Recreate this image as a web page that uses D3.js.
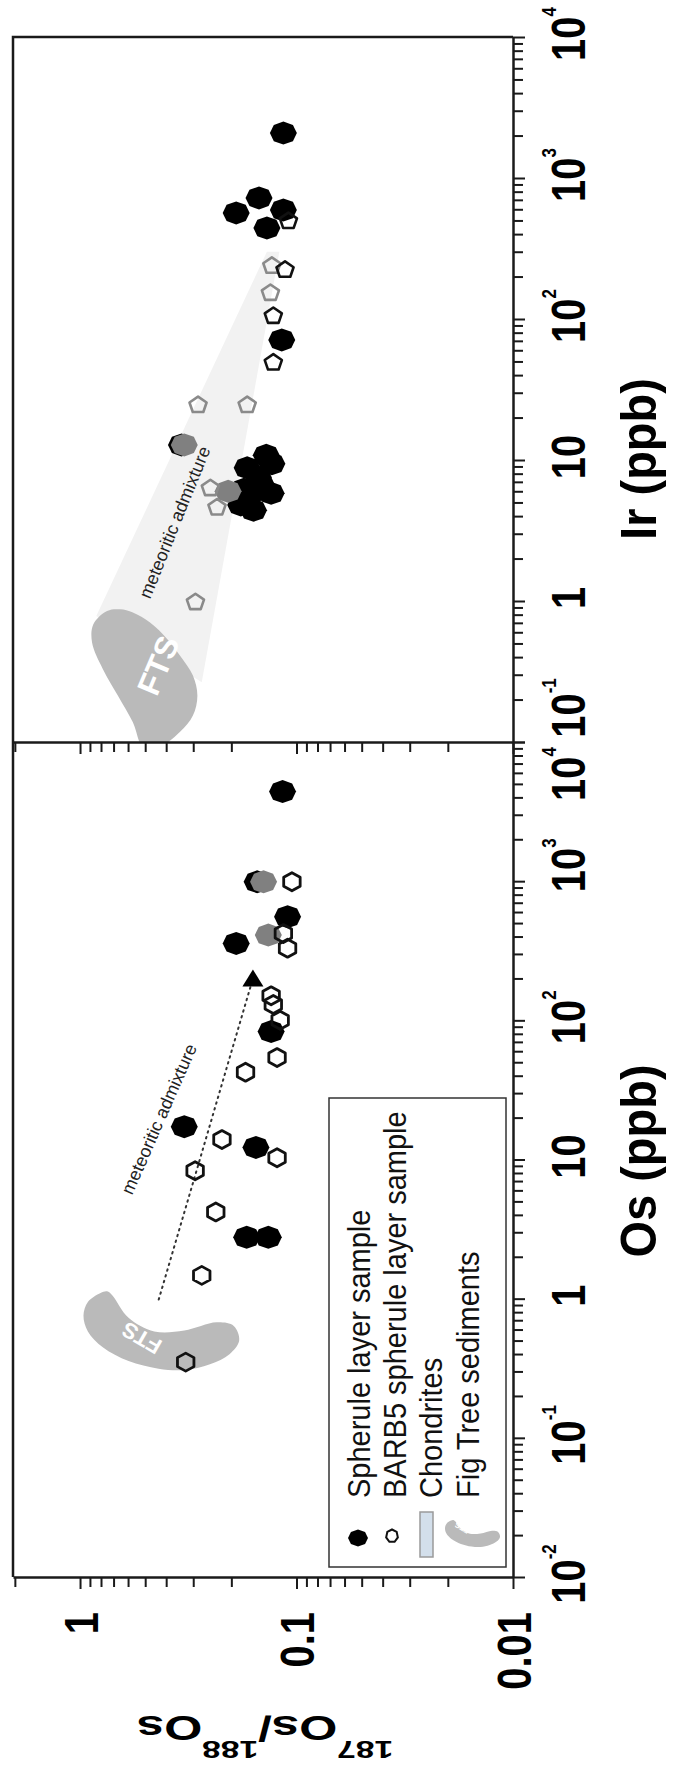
<!DOCTYPE html>
<html>
<head>
<meta charset="utf-8">
<script src="https://cdn.jsdelivr.net/npm/d3@7"></script>
<style>
  html, body { margin: 0; padding: 0; background: #fff; }
  svg { display: block; }
</style>
</head>
<body>
<svg id="chart" width="674" height="1767"></svg>
<script>
// ---------- data: [187Os/188Os, concentration (ppb)] ----------
const ratioDomain = [2.04, 0.01];
const osDomain = [0.01, 1e4];
const irDomain = [0.1, 1e4];

// Os panel
const osSpherule = [[0.33, 17.2], [0.154, 12.2], [0.170, 2.76], [0.135, 2.76], [0.131, 83],
  [0.19, 357], [0.11, 555], [0.152, 990], [0.116, 4400]];
const osSpheruleGrey = [[0.142, 990], [0.135, 410]];
const osBarb5 = [[0.221, 13.9], [0.123, 10.3], [0.294, 8.3], [0.236, 4.2], [0.274, 1.47],
  [0.325, 0.35], [0.172, 42.4], [0.123, 54], [0.119, 100], [0.131, 150], [0.128, 130],
  [0.105, 990], [0.11, 330], [0.115, 420]];
const osChondrites = {ratio: [0.119, 0.154], conc: [340, 1480]};
const osMixLine = [[0.433, 0.985], [0.159, 200]];
const osMixArrow = [0.159, 200];

// Ir panel
const irSpherule = [[0.115, 2085], [0.149, 722], [0.19, 565], [0.115, 593], [0.137, 442], [0.117, 71],
  [0.34, 12.8], [0.138, 10.8], [0.13, 9.4], [0.169, 8.8], [0.15, 7.5], [0.144, 6.5],
  [0.175, 6.2], [0.131, 5.8], [0.165, 5.5], [0.181, 4.8], [0.158, 4.4]];
const irSpheruleGrey = [[0.33, 12.8], [0.207, 6.0]];
const irBarb5 = [[0.109, 495], [0.113, 223], [0.128, 105], [0.128, 49]];
const irBarb5Grey = [[0.13, 238], [0.132, 153], [0.285, 24.5], [0.169, 24.5], [0.25, 6.3],
  [0.233, 4.6], [0.293, 0.98]];
const irChondrites = {ratio: [0.1076, 0.137], conc: [300, 1315]};
const irMixField = [[0.841, 0.783], [0.137, 300], [0.12, 300], [0.274, 0.265]];

// Fig Tree sediment (FTS) fields
const ftsOsOutline = [[0.804, 1.10], [0.920, 0.948], [0.964, 0.757], [0.920, 0.582], [0.785, 0.447],
  [0.597, 0.356], [0.434, 0.314], [0.330, 0.307], [0.251, 0.338], [0.204, 0.399], [0.184, 0.500],
  [0.195, 0.637], [0.234, 0.676], [0.330, 0.590], [0.454, 0.582], [0.597, 0.729], [0.710, 1.06],
  [0.750, 1.13]];
const ftsIrOutline = [[0.750, 0.850], [0.868, 0.684], [0.880, 0.508], [0.785, 0.330], [0.668, 0.213],
  [0.570, 0.138], [0.508, 0.090], [0.43, 0.092], [0.345, 0.118], [0.301, 0.154], [0.287, 0.213],
  [0.301, 0.296], [0.345, 0.409], [0.395, 0.536], [0.475, 0.703], [0.570, 0.828], [0.653, 0.873]];

// annotation anchors (start / end of text baseline, data units)
const osMixText = [[0.575, 5.5], [0.265, 85]];
const irMixText = [[0.475, 1.02], [0.231, 15.8]];
const osFtsCentre = [0.52, 0.52];
const irFtsCentre = [0.434, 0.35];

// tick labels
const ratioTickLabels = [[1, "1"], [0.1, "0.1"], [0.01, "0.01"]];
const osTickLabels = [[0.01, "10", "-2"], [0.1, "10", "-1"], [1, "1", ""], [10, "10", ""],
  [100, "10", "2"], [1000, "10", "3"], [10000, "10", "4"]];
const irTickLabels = [[0.1, "10", "-1"], [1, "1", ""], [10, "10", ""], [100, "10", "2"],
  [1000, "10", "3"], [10000, "10", "4"]];
const legendLabels = ["Spherule layer sample", "BARB5 spherule layer sample", "Chondrites", "Fig Tree sediments"];

// ---------- layout ----------
const FONT = "'Liberation Sans', Arial, Helvetica, sans-serif";
const frame = {left: 13, right: 513, top: 37, mid: 742, bottom: 1577};
const svg = d3.select("#chart");

const xR = d3.scaleLog().domain(ratioDomain).range([frame.left, frame.right]);
const yOs = d3.scaleLog().domain(osDomain).range([frame.bottom, frame.mid]);
const yIr = d3.scaleLog().domain(irDomain).range([frame.mid, frame.top]);

const defs = svg.append("defs");
defs.append("clipPath").attr("id", "clipIr").append("rect")
  .attr("x", frame.left).attr("y", frame.top).attr("width", frame.right - frame.left).attr("height", frame.mid - frame.top);
defs.append("clipPath").attr("id", "clipOs").append("rect")
  .attr("x", frame.left).attr("y", frame.mid).attr("width", frame.right - frame.left).attr("height", frame.bottom - frame.mid);

function poly(n, rx, ry) {
  const pts = d3.range(n).map(i => {
    const a = -Math.PI / 2 + i * 2 * Math.PI / n;
    return [rx * Math.cos(a), ry * Math.sin(a)];
  });
  return "M" + pts.map(p => p[0].toFixed(2) + "," + p[1].toFixed(2)).join("L") + "Z";
}
const FILLED = poly(8, 13.5, 11.5);
const OPEN_IR = poly(5, 9, 8.5);
const OPEN_OS = poly(6, 9.5, 9);
const TRI = "M0,-9L10.5,8L-10.5,8Z";

function markers(g, data, y, shape, fill, stroke, sw) {
  g.selectAll(null).data(data).join("path")
    .attr("d", shape)
    .attr("transform", d => `translate(${xR(d[0])},${y(d[1])})`)
    .attr("fill", fill).attr("stroke", stroke).attr("stroke-width", sw)
    .attr("stroke-linejoin", "round");
}

function label(g, x, y, angle, sx, size, weight, anchor, parts, fill) {
  const t = g.append("text")
    .attr("transform", `translate(${x},${y}) scale(${sx},1) rotate(${angle})`)
    .attr("font-family", FONT).attr("font-size", size).attr("font-weight", weight)
    .attr("text-anchor", anchor).attr("fill", fill || "#000");
  parts.forEach(p => {
    const ts = t.append("tspan").text(p.text);
    if (p.size) ts.attr("font-size", p.size);
    if (p.dy) ts.attr("dy", p.dy);
  });
  return t;
}

const smooth = y => d3.line().curve(d3.curveCatmullRomClosed.alpha(0.5)).x(d => xR(d[0])).y(d => y(d[1]));
const straight = y => d3.line().curve(d3.curveLinearClosed).x(d => xR(d[0])).y(d => y(d[1]));

// ---------- Ir panel ----------
const irG = svg.append("g").attr("clip-path", "url(#clipIr)");
irG.append("path").datum(irMixField).attr("d", straight(yIr)).attr("fill", "#f2f2f2");
irG.append("path").datum(ftsIrOutline).attr("d", smooth(yIr)).attr("fill", "#bababa");
label(irG, xR(irFtsCentre[0]), yIr(irFtsCentre[1]), -67, 1, 32, "bold", "middle",
  [{text: "FTS", dy: 11}], "#fff");
irG.append("rect")
  .attr("x", xR(irChondrites.ratio[0])).attr("width", xR(irChondrites.ratio[1]) - xR(irChondrites.ratio[0]))
  .attr("y", yIr(irChondrites.conc[1])).attr("height", yIr(irChondrites.conc[0]) - yIr(irChondrites.conc[1]))
  .attr("fill", "#d3dfeb").attr("stroke", "#9a9a9a").attr("stroke-width", 1.5);
{
  const [a, b] = irMixText;
  const x0 = xR(a[0]), y0 = yIr(a[1]), x1 = xR(b[0]), y1 = yIr(b[1]);
  const ang = Math.atan2(y1 - y0, x1 - x0) * 180 / Math.PI;
  label(irG, x0, y0, ang, 1, 18, "normal", "start", [{text: "meteoritic admixture"}], "#222");
}
markers(irG, irSpherule, yIr, FILLED, "#000", "none", 0);
markers(irG, irSpheruleGrey, yIr, FILLED, "#808080", "none", 0);
markers(irG, irBarb5Grey, yIr, OPEN_IR, "none", "#8a8a8a", 2.6);
markers(irG, irBarb5, yIr, OPEN_IR, "none", "#111", 2.6);

// ---------- Os panel ----------
const osG = svg.append("g").attr("clip-path", "url(#clipOs)");
osG.append("path").datum(ftsOsOutline).attr("d", smooth(yOs)).attr("fill", "#bababa");
label(osG, xR(osFtsCentre[0]), yOs(osFtsCentre[1]), -150, 1, 22, "bold", "middle",
  [{text: "FTS", dy: 8}], "#fff");
osG.append("rect")
  .attr("x", xR(osChondrites.ratio[0])).attr("width", xR(osChondrites.ratio[1]) - xR(osChondrites.ratio[0]))
  .attr("y", yOs(osChondrites.conc[1])).attr("height", yOs(osChondrites.conc[0]) - yOs(osChondrites.conc[1]))
  .attr("fill", "#d3dfeb").attr("stroke", "#9a9a9a").attr("stroke-width", 1.5);
osG.append("path").datum(osMixLine)
  .attr("d", d3.line().x(d => xR(d[0])).y(d => yOs(d[1])))
  .attr("fill", "none").attr("stroke", "#333").attr("stroke-width", 2)
  .attr("stroke-dasharray", "1.5,4.5").attr("stroke-linecap", "round");
markers(osG, [osMixArrow], yOs, TRI, "#000", "none", 0);
{
  const [a, b] = osMixText;
  const x0 = xR(a[0]), y0 = yOs(a[1]), x1 = xR(b[0]), y1 = yOs(b[1]);
  const ang = Math.atan2(y1 - y0, x1 - x0) * 180 / Math.PI;
  label(osG, x0, y0, ang, 1, 18, "normal", "start", [{text: "meteoritic admixture"}], "#222");
}
markers(osG, osSpherule, yOs, FILLED, "#000", "none", 0);
markers(osG, osSpheruleGrey, yOs, FILLED, "#808080", "none", 0);
markers(osG, osBarb5, yOs, OPEN_OS, "none", "#111", 2.8);

// ---------- legend ----------
const lg = svg.append("g");
lg.append("rect").attr("x", 329).attr("y", 1098).attr("width", 177).attr("height", 469)
  .attr("fill", "#fff").attr("stroke", "#333").attr("stroke-width", 1.5);
lg.append("path").attr("d", poly(8, 10, 8.5)).attr("transform", "translate(358,1538)").attr("fill", "#000");
lg.append("path").attr("d", poly(7, 6, 6.5)).attr("transform", "translate(392,1536)")
  .attr("fill", "none").attr("stroke", "#111").attr("stroke-width", 2);
lg.append("rect").attr("x", 420).attr("y", 1512).attr("width", 13).attr("height", 45)
  .attr("fill", "#d3dfeb").attr("stroke", "#9a9a9a").attr("stroke-width", 1.5);
{
  // miniature FTS field, reshaped from the Os-panel outline
  const pts = ftsOsOutline.map(d => [xR(d[0]), yOs(d[1])]);
  const ex = d3.extent(pts, p => p[0]), ey = d3.extent(pts, p => p[1]);
  const mx = d3.scaleLinear().domain(ex).range([445, 500]);
  const my = d3.scaleLinear().domain(ey).range([1520, 1547]);
  lg.append("path").datum(pts)
    .attr("d", d3.line().curve(d3.curveCatmullRomClosed.alpha(0.5)).x(p => mx(p[0])).y(p => my(p[1])))
    .attr("fill", "#bababa");
  label(lg, 462, 1528, -150, 1, 8, "bold", "middle", [{text: "FTS", dy: 3}], "#fff");
}
[370, 406, 442, 479].forEach((bx, i) => {
  label(lg, bx, 1498, -90, 1.1, 29, "normal", "start", [{text: legendLabels[i]}], "#111");
});

// ---------- axes ----------
function logTicks(lo, hi) {
  const out = [];
  for (let k = Math.floor(Math.log10(lo)); k <= Math.ceil(Math.log10(hi)); k++) {
    for (let m = 1; m < 10; m++) {
      const v = +(m * Math.pow(10, k)).toPrecision(6);
      if (v >= lo * 0.9999 && v <= hi * 1.0001) out.push(v);
    }
  }
  return out;
}
const isMajor = v => Math.abs(Math.log10(v) - Math.round(Math.log10(v))) < 1e-6;
const ratioTicks = logTicks(0.01, 2.04);

function styleAxis(sel, horizontal) {
  sel.select(".domain").attr("stroke", "#1a1a1a").attr("stroke-width", 2.5);
  sel.selectAll(".tick line").attr("stroke", "#1a1a1a").attr("stroke-width", 2)
    .attr(horizontal ? "y2" : "x2", d => isMajor(d) ? 12 : 10);
}

svg.append("g").attr("transform", `translate(0,${frame.bottom})`)
  .call(d3.axisBottom(xR).tickValues(ratioTicks).tickFormat("").tickSizeOuter(0))
  .call(s => styleAxis(s, true));
svg.append("g").attr("transform", `translate(0,${frame.mid})`)
  .call(d3.axisBottom(xR).tickValues(ratioTicks).tickFormat("").tickSizeOuter(0))
  .call(s => styleAxis(s, true));
svg.append("g").attr("transform", `translate(${frame.right},0)`)
  .call(d3.axisRight(yOs).tickValues(logTicks(0.01, 1e4)).tickFormat("").tickSizeOuter(0))
  .call(s => styleAxis(s, false));
svg.append("g").attr("transform", `translate(${frame.right},0)`)
  .call(d3.axisRight(yIr).tickValues(logTicks(0.1, 1e4)).tickFormat("").tickSizeOuter(0))
  .call(s => styleAxis(s, false));

// frame (left and top edges)
svg.append("path")
  .attr("d", `M${frame.left},${frame.bottom}V${frame.top}H${frame.right}`)
  .attr("fill", "none").attr("stroke", "#1a1a1a").attr("stroke-width", 2.5);

// tick labels
const tl = svg.append("g");
ratioTickLabels.forEach(([v, s]) => {
  label(tl, xR(v) + 17.5, 1612, -90, 1.22, 40, "bold", "end", [{text: s}]);
});
const nudgeOs = {10000: 32, 1000: -16};
osTickLabels.forEach(([v, base, sup]) => {
  const parts = [{text: base}];
  if (sup) parts.push({text: sup, size: 17, dy: -24});
  label(tl, 585, yOs(v) + (nudgeOs[v] || -3), -90, 1.22, 40, "bold", "middle", parts);
});
const nudgeIr = {0.1: -34};
irTickLabels.forEach(([v, base, sup]) => {
  const parts = [{text: base}];
  if (sup) parts.push({text: sup, size: 17, dy: -24});
  label(tl, 585, yIr(v) + (nudgeIr[v] || -3), -90, 1.22, 40, "bold", "middle", parts);
});

// axis titles
label(tl, 656, 1161, -90, 1.08, 47, "bold", "middle", [{text: "Os (ppb)"}]);
label(tl, 656, 459, -90, 1.08, 47, "bold", "middle", [{text: "Ir (ppb)"}]);
label(tl, 265, 1716, 180, 1.4, 35, "bold", "middle", [
  {text: "187", size: 24, dy: -25}, {text: "Os/", dy: 25},
  {text: "188", size: 24, dy: -25}, {text: "Os", dy: 25}
]);
</script>
</body>
</html>
